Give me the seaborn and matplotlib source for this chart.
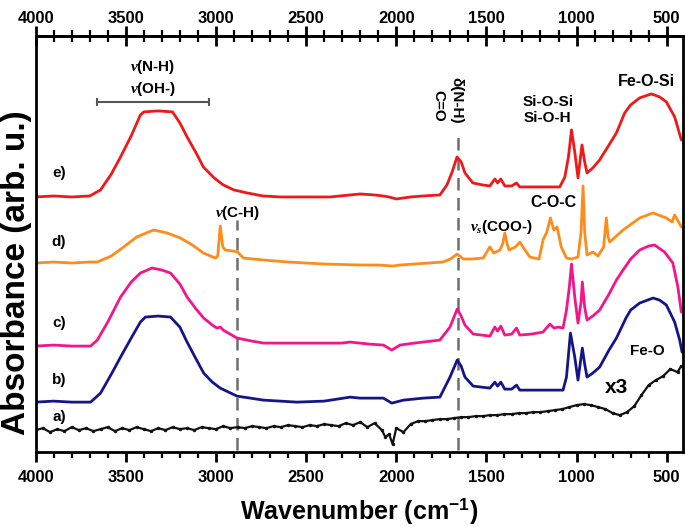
import matplotlib
matplotlib.use("Agg")
import matplotlib.pyplot as plt
import seaborn as sns
from matplotlib.ticker import FixedLocator

# ---- spectra (wavenumber in cm-1, absorbance in arb. units, offsets included) ----
wn_e = [4000, 3900, 3800, 3700, 3640, 3580, 3529, 3470, 3419, 3400, 3320, 3241, 3200, 3160, 3110,
        3070, 3010, 2959, 2900, 2826, 2740, 2643, 2500, 2367, 2256, 2200, 2120, 2073, 2040, 2000,
        1960, 1920, 1850, 1758, 1719, 1690, 1663, 1640, 1619, 1575, 1520, 1481, 1453, 1438, 1420,
        1398, 1360, 1333, 1315, 1298, 1200, 1093, 1065, 1045, 1028, 1010, 992, 970, 955, 942, 910,
        872, 820, 779, 733, 700, 650, 585, 540, 502, 456, 419]
abs_e = [2.55, 2.56, 2.55, 2.56, 2.62, 2.78, 2.95, 3.16, 3.37, 3.40, 3.41, 3.40, 3.29, 3.15, 2.99,
         2.85, 2.74, 2.67, 2.62, 2.59, 2.56, 2.55, 2.55, 2.55, 2.57, 2.58, 2.57, 2.56, 2.55, 2.53,
         2.54, 2.55, 2.56, 2.57, 2.67, 2.80, 2.95, 2.90, 2.79, 2.69, 2.67, 2.66, 2.73, 2.69, 2.73,
         2.66, 2.66, 2.69, 2.65, 2.65, 2.65, 2.65, 2.75, 2.95, 3.22, 3.00, 2.74, 3.07, 2.90, 2.79, 2.84,
         2.92, 3.07, 3.19, 3.39, 3.47, 3.54, 3.58, 3.55, 3.50, 3.35, 3.12]

wn_d = [4000, 3900, 3800, 3700, 3658, 3580, 3512, 3440, 3346, 3270, 3197, 3130, 3070, 3003, 2990,
        2976, 2962, 2948, 2904, 2880, 2848, 2736, 2600, 2400, 2200, 2100, 2020, 1979, 1900, 1741,
        1700, 1662, 1628, 1580, 1518, 1481, 1459, 1425, 1410, 1398, 1385, 1374, 1340, 1314, 1290,
        1259, 1208, 1186, 1165, 1145, 1126, 1108, 1085, 1056, 1028, 992, 975, 964, 955, 942, 909,
        881, 850, 835, 825, 816, 742, 650, 576, 502, 470, 456, 440, 419]
abs_d = [1.89, 1.90, 1.89, 1.90, 1.90, 1.96, 2.05, 2.15, 2.22, 2.19, 2.14, 2.07, 1.99, 1.94, 1.96,
         2.26, 2.05, 2.02, 2.01, 2.00, 1.94, 1.92, 1.90, 1.88, 1.87, 1.87, 1.86, 1.87, 1.88, 1.90,
         1.93, 1.98, 1.93, 1.93, 1.94, 2.05, 1.99, 2.02, 2.08, 2.19, 2.08, 2.02, 2.05, 2.10, 2.03,
         1.95, 1.93, 2.12, 2.20, 2.34, 2.22, 2.25, 2.05, 1.94, 1.93, 1.95, 2.20, 2.66, 2.20, 1.97, 2.00,
         1.96, 2.05, 2.34, 2.15, 2.10, 2.22, 2.34, 2.39, 2.34, 2.30, 2.37, 2.32, 2.25]

wn_c = [4000, 3900, 3800, 3695, 3658, 3600, 3529, 3470, 3419, 3354, 3300, 3252, 3200, 3160, 3110,
        3068, 3020, 2994, 2975, 2960, 2883, 2800, 2736, 2500, 2300, 2256, 2150, 2071, 2025, 1979,
        1900, 1758, 1702, 1662, 1640, 1619, 1573, 1481, 1453, 1438, 1420, 1398, 1360, 1333, 1315,
        1250, 1186, 1148, 1125, 1103, 1075, 1056, 1040, 1028, 1010, 992, 975, 968, 955, 942, 910,
        872, 820, 779, 742, 700, 650, 600, 567, 512, 466, 438, 419]
abs_c = [1.06, 1.07, 1.06, 1.06, 1.12, 1.30, 1.55, 1.70, 1.79, 1.84, 1.82, 1.79, 1.68, 1.55, 1.43,
         1.34, 1.27, 1.24, 1.25, 1.22, 1.14, 1.11, 1.09, 1.09, 1.09, 1.10, 1.08, 1.07, 1.02, 1.07,
         1.09, 1.12, 1.25, 1.43, 1.36, 1.27, 1.18, 1.16, 1.25, 1.21, 1.26, 1.17, 1.18, 1.24, 1.17,
         1.18, 1.20, 1.28, 1.24, 1.25, 1.24, 1.42, 1.65, 1.88, 1.55, 1.29, 1.50, 1.70, 1.45, 1.32, 1.36,
         1.42, 1.58, 1.72, 1.82, 1.93, 2.02, 2.06, 2.07, 2.00, 1.89, 1.65, 1.40]

wn_b = [4000, 3900, 3800, 3695, 3640, 3580, 3529, 3470, 3419, 3391, 3320, 3252, 3200, 3160, 3110,
        3068, 3020, 2976, 2883, 2736, 2551, 2400, 2256, 2200, 2071, 2025, 1960, 1850, 1758, 1702,
        1662, 1640, 1619, 1573, 1481, 1453, 1438, 1420, 1398, 1360, 1333, 1315, 1200, 1075, 1056,
        1034, 1010, 992, 968, 955, 942, 910, 872, 820, 779, 726, 700, 650, 576, 540, 502, 456, 428, 415]
abs_b = [0.50, 0.51, 0.50, 0.50, 0.59, 0.78, 0.95, 1.14, 1.30, 1.35, 1.36, 1.35, 1.25, 1.10, 0.93,
         0.79, 0.70, 0.64, 0.56, 0.52, 0.50, 0.51, 0.55, 0.54, 0.54, 0.49, 0.52, 0.54, 0.55, 0.75,
         0.92, 0.86, 0.75, 0.66, 0.64, 0.70, 0.66, 0.70, 0.63, 0.63, 0.67, 0.62, 0.62, 0.62, 0.75,
         1.19, 0.95, 0.72, 1.04, 0.88, 0.75, 0.79, 0.85, 1.02, 1.14, 1.34, 1.42, 1.49, 1.54, 1.52, 1.47,
         1.30, 1.12, 1.00]

wn_a = [4000, 3960, 3920, 3880, 3840, 3800, 3760, 3720, 3680, 3640, 3600, 3560, 3520, 3480, 3440,
        3400, 3360, 3320, 3280, 3240, 3200, 3160, 3120, 3080, 3040, 3000, 2960, 2920, 2880, 2840,
        2800, 2760, 2720, 2680, 2640, 2600, 2560, 2520, 2480, 2440, 2400, 2360, 2320, 2280, 2240,
        2200, 2160, 2120, 2080, 2060, 2040, 2020, 2000, 1960, 1920, 1880, 1840, 1800, 1760, 1720,
        1680, 1640, 1600, 1560, 1520, 1480, 1440, 1400, 1360, 1320, 1280, 1240, 1200, 1160, 1120,
        1080, 1040, 1000, 960, 920, 880, 840, 800, 760, 720, 680, 640, 600, 560, 520, 480, 440, 420]
abs_a = [0.22, 0.24, 0.20, 0.23, 0.21, 0.25, 0.22, 0.24, 0.21, 0.23, 0.25, 0.21, 0.24, 0.22, 0.25,
         0.23, 0.21, 0.24, 0.22, 0.25, 0.23, 0.24, 0.22, 0.25, 0.24, 0.23, 0.26, 0.24, 0.25, 0.24,
         0.26, 0.25, 0.24, 0.26, 0.25, 0.27, 0.26, 0.25, 0.27, 0.26, 0.28, 0.27, 0.26, 0.29, 0.27,
         0.30, 0.25, 0.29, 0.22, 0.15, 0.18, 0.08, 0.24, 0.20, 0.28, 0.31, 0.31, 0.32, 0.33, 0.33,
         0.34, 0.35, 0.35, 0.36, 0.36, 0.37, 0.37, 0.38, 0.38, 0.39, 0.39, 0.40, 0.40, 0.41, 0.42,
         0.43, 0.45, 0.47, 0.48, 0.47, 0.45, 0.43, 0.39, 0.37, 0.40, 0.46, 0.57, 0.67, 0.72, 0.76,
         0.83, 0.80, 0.86]

series = [("a", wn_a, abs_a, "#111111"),
          ("b", wn_b, abs_b, "#15158a"),
          ("c", wn_c, abs_c, "#f5148a"),
          ("d", wn_d, abs_d, "#ff8c1a"),
          ("e", wn_e, abs_e, "#f01818")]

label_y = {"a": 0.35, "b": 0.72, "c": 1.29, "d": 2.10, "e": 2.79}
dashed_wn = [2885, 1660]
major_ticks = [4000, 3500, 3000, 2500, 2000, 1500, 1000, 500]
minor_ticks = list(range(4000, 410, -100))

sns.set_style("ticks")
plt.rcParams['font.family'] = ['Liberation Sans', 'DejaVu Sans']
plt.rcParams['font.weight'] = 'bold'
plt.rcParams['text.color'] = 'black'
plt.rcParams['axes.labelcolor'] = 'black'
plt.rcParams['xtick.color'] = 'black'
plt.rcParams['axes.edgecolor'] = 'black'
plt.rcParams['mathtext.fontset'] = 'custom'
plt.rcParams['mathtext.rm'] = 'Liberation Sans:bold'
plt.rcParams['mathtext.bf'] = 'Liberation Sans:bold'
plt.rcParams['mathtext.it'] = 'Liberation Serif:italic'

fig, ax = plt.subplots(figsize=(6.85, 5.27), dpi=100)
fig.subplots_adjust(left=0.052, right=0.997, top=0.932, bottom=0.142)

for name, wn, ab, col in series:
    if name == "a":
        sns.lineplot(x=wn, y=ab, ax=ax, color=col, linewidth=1.6, estimator=None, sort=False,
                     marker='o', markersize=2.5, markeredgewidth=0)
    else:
        sns.lineplot(x=wn, y=ab, ax=ax, color=col, linewidth=2.0, estimator=None, sort=False)
    ax.text(3870, label_y[name], name + ")", fontsize=11, fontweight='bold', ha='center', va='center')

for w in dashed_wn:
    ymax = 2.32 if w > 2000 else 3.2
    ax.plot([w, w], [0.02, ymax], color='#6e6e6e', lw=1.8, ls=(0, (5, 3)), zorder=0)

ax.set_xlim(4000, 410)
ax.set_ylim(0, 4.16)
ax.set_yticks([])

# annotations
ax.errorbar([3350], [3.50], xerr=[[310], [310]], color='#555555', capsize=3, lw=1.5, capthick=1.5)
ax.text(3350, 3.74, r"$\nu$(N-H)" + "\n" + r"$\nu$(OH-)", fontsize=11, ha='center', va='center',
        linespacing=1.3)
ax.text(2880, 2.39, r"$\nu$(C-H)", fontsize=11, ha='center', va='center')
ax.text(1665, 3.52, "δ(N-H)", fontsize=11, rotation=-90, ha='center', va='center')
ax.text(1765, 3.46, "C=O", fontsize=11, rotation=-90, ha='center', va='center')
ax.text(1160, 3.42, "Si-O-Si\nSi-O-H", fontsize=11, ha='center', va='center', linespacing=1.2)
ax.text(610, 3.70, "Fe-O-Si", fontsize=11.5, ha='center', va='center')
ax.text(1130, 2.49, "C-O-C", fontsize=11.5, ha='center', va='center')
ax.text(1420, 2.25, r"$\nu_s$(COO-)", fontsize=11, ha='center', va='center')
ax.text(610, 1.01, "Fe-O", fontsize=11, ha='center', va='center')
ax.text(780, 0.65, "x3", fontsize=15, ha='center', va='center')

# axes styling
for sp in ax.spines.values():
    sp.set_linewidth(2)
    sp.set_visible(True)
ax.xaxis.set_major_locator(FixedLocator(major_ticks))
ax.xaxis.set_minor_locator(FixedLocator(minor_ticks))
ax.tick_params(axis='x', which='major', direction='out', length=7, width=2, labelsize=12, pad=6)
ax.tick_params(axis='x', which='minor', direction='out', length=4, width=1.6)
for lab in ax.get_xticklabels():
    lab.set_fontweight('bold')

top = ax.secondary_xaxis('top')
top.xaxis.set_major_locator(FixedLocator(major_ticks))
top.xaxis.set_minor_locator(FixedLocator(minor_ticks))
top.tick_params(axis='x', which='major', direction='inout', length=14, width=2, labelsize=12, pad=0)
top.tick_params(axis='x', which='minor', direction='inout', length=8, width=1.6)
top.spines['top'].set_linewidth(2)
for lab in top.get_xticklabels():
    lab.set_fontweight('bold')

ax.set_xlabel(r"Wavenumber (cm$^{-1}$)", fontsize=18, fontweight='bold', labelpad=8)
ax.set_ylabel("Absorbance (arb. u.)", fontsize=24, fontweight='bold')
ax.yaxis.set_label_coords(-0.006, 0.43)

fig.savefig("out.png", dpi=100)
